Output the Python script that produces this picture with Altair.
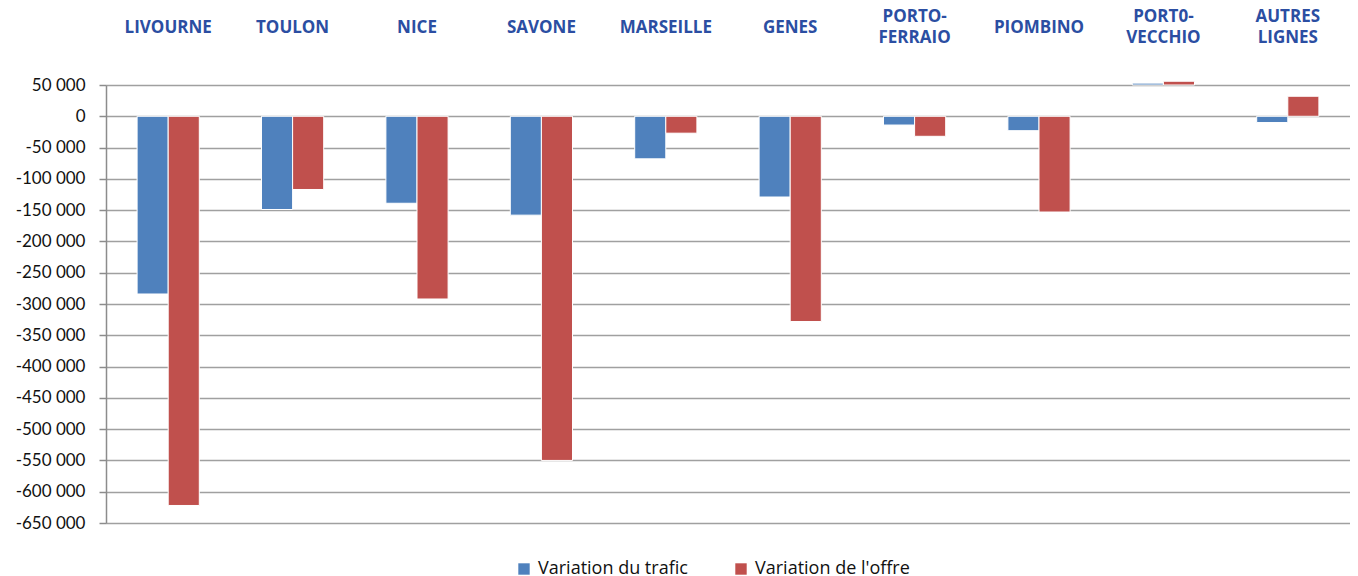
import altair as alt
import pandas as pd

categories = ["LIVOURNE", "TOULON", "NICE", "SAVONE", "MARSEILLE", "GENES",
              "PORTO-\nFERRAIO", "PIOMBINO", "PORT0-\nVECCHIO", "AUTRES\nLIGNES"]
series_names = ["Variation du trafic", "Variation de l'offre"]
trafic = [-284000, -149000, -139000, -158000, -68000, -129000, -14000, -23000, 53000, -10000]
offre = [-622000, -117000, -292000, -550000, -27000, -328000, -32000, -153000, 56000, 32000]
# visible bar start for each group (Porto-Vecchio bars appear only above the 50 000 line)
bar_base = [0, 0, 0, 0, 0, 0, 0, 0, 50000, 0]
y_ticks = [50000, 0, -50000, -100000, -150000, -200000, -250000, -300000, -350000,
           -400000, -450000, -500000, -550000, -600000, -650000]
colors = ["#4F81BD", "#C0504D"]

rows = []
for i, c in enumerate(categories):
    rows.append({"cat": c, "serie": series_names[0], "value": trafic[i], "base": bar_base[i]})
    rows.append({"cat": c, "serie": series_names[1], "value": offre[i], "base": bar_base[i]})
df = pd.DataFrame(rows)

multi_test = "indexof(datum.value, '\\n') >= 0"

chart = alt.Chart(df).mark_bar(stroke="white", strokeWidth=1).encode(
    x=alt.X("cat:N", sort=categories, title=None,
            scale=alt.Scale(paddingInner=0.5, paddingOuter=0.25),
            axis=alt.Axis(orient="top", domain=False, ticks=False, grid=False,
                          labelAngle=0, labelFont="Open Sans", labelFontWeight="bold",
                          labelFontSize=17, labelColor="#2B4EA2",
                          labelBaseline=alt.condition(multi_test, alt.value("line-bottom"),
                                                      alt.value("middle")),
                          labelPadding=58, labelLineHeight=21,
                          labelExpr="split(datum.value, '\\n')")),
    xOffset=alt.XOffset("serie:N", sort=series_names, scale=alt.Scale(paddingInner=0)),
    y=alt.Y("value:Q", title=None,
            scale=alt.Scale(domain=[-650000, 50000], nice=False, zero=False),
            axis=alt.Axis(values=y_ticks, grid=True, gridColor="#A0A0A0", gridWidth=1.5,
                          domainColor="#8C8C8C", domainWidth=1.5, tickColor="#8C8C8C",
                          tickSize=7, tickWidth=1.5, labelFont="Lato", labelFontSize=17,
                          labelColor="#111111", labelPadding=14,
                          labelExpr="replace(replace(format(datum.value, ','), ',', ' '), '\u2212', '-')")),
    y2="base:Q",
    color=alt.Color("serie:N", sort=series_names, title=None,
                    scale=alt.Scale(domain=series_names, range=colors),
                    legend=alt.Legend(orient="none", legendX=409, legendY=475,
                                      direction="horizontal", symbolType="square",
                                      symbolSize=130, symbolStrokeWidth=0,
                                      labelFont="Open Sans", labelFontSize=18,
                                      labelColor="#111111", columnPadding=44,
                                      labelOffset=5, padding=0)),
).properties(
    width=1244, height=438,
    autosize=alt.AutoSizeParams(type="none"),
    padding={"left": 98, "top": 77, "right": 0, "bottom": 54},
).configure_view(stroke=None).configure(background="white")

chart.save("out.html", embed_options={"renderer": "svg", "actions": False})
